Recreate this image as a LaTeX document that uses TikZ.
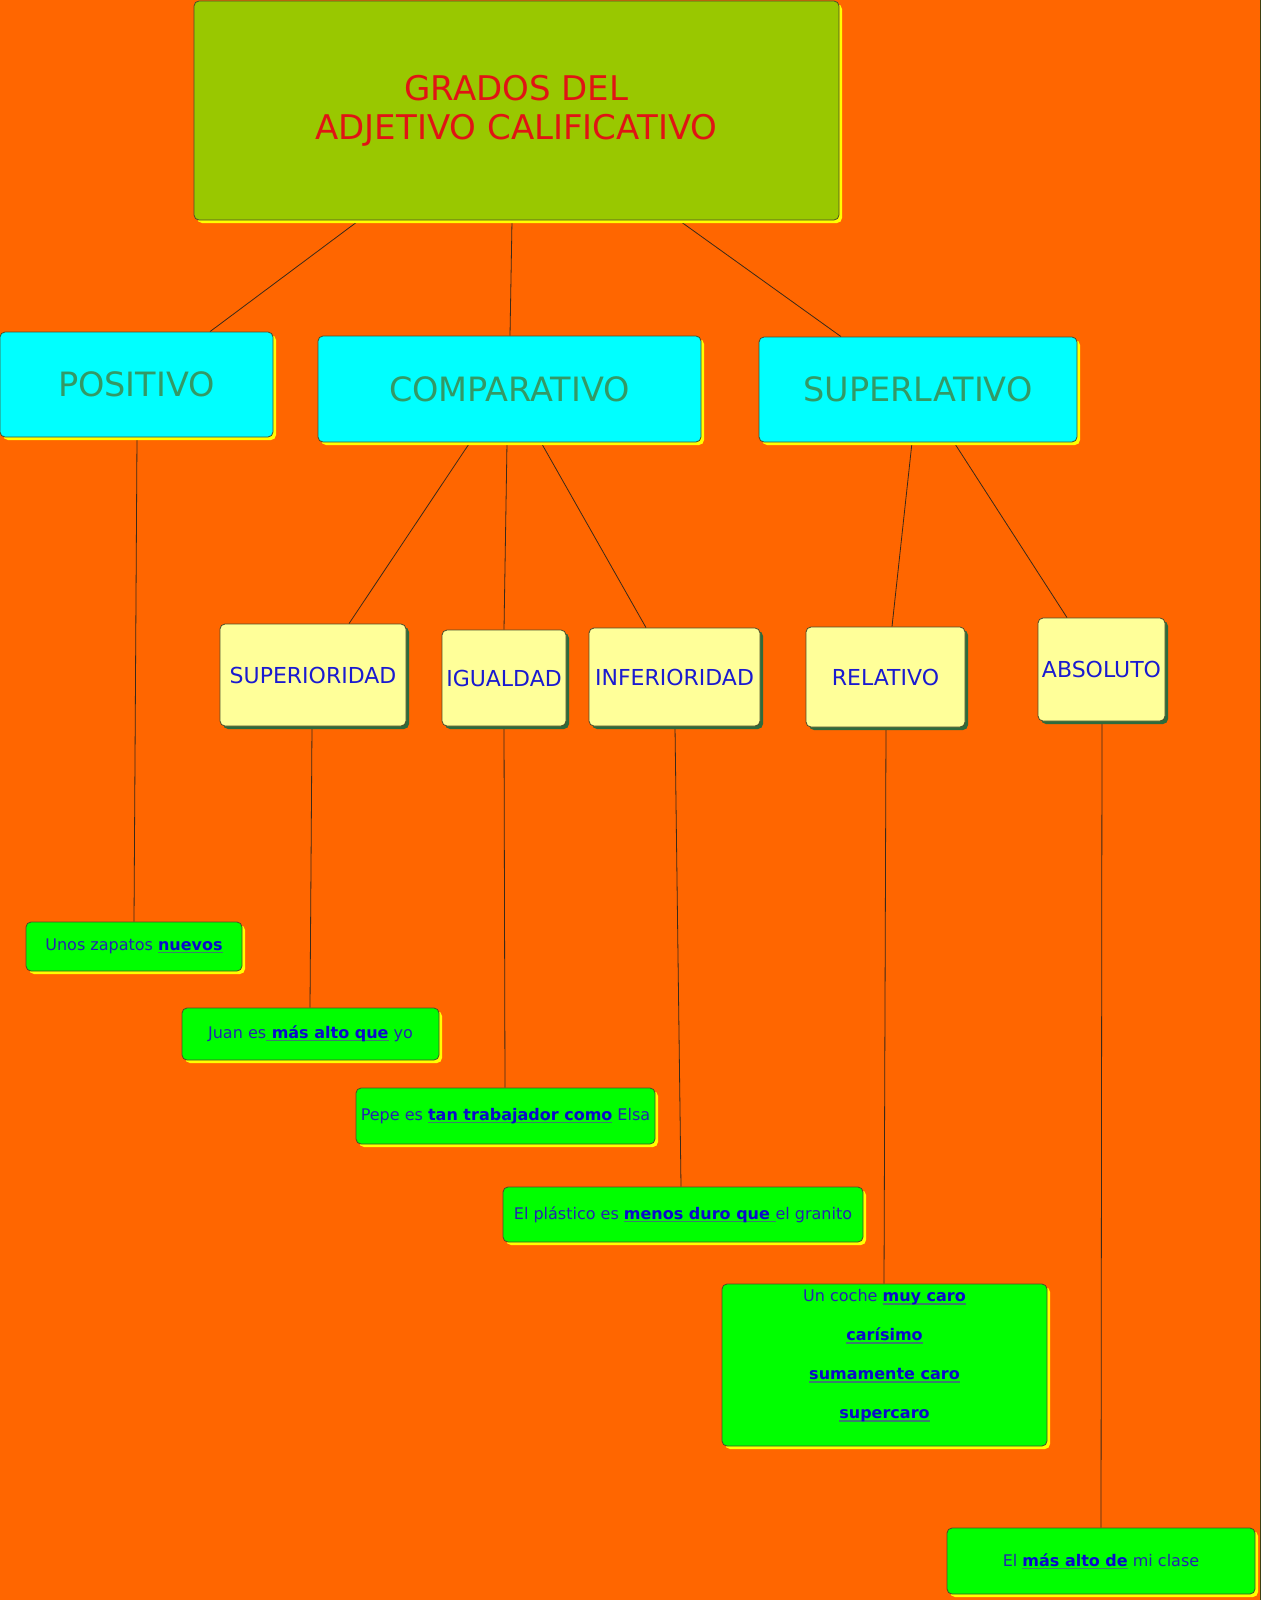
\documentclass[tikz,border=0pt]{standalone}
\usepackage{fontspec}
\setmainfont{DejaVu Sans}
\usetikzlibrary{shadows,calc}
\pgfdeclarelayer{background}
\pgfsetlayers{background,main}
\definecolor{bgorange}{HTML}{FF6600}
\definecolor{titlegreen}{HTML}{99C800}
\definecolor{titlered}{HTML}{E01414}
\definecolor{cyanbox}{HTML}{00FFFF}
\definecolor{seagreen}{HTML}{339966}
\definecolor{paleyellow}{HTML}{FFFF99}
\definecolor{lvlblue}{HTML}{1A1AD0}
\definecolor{limebox}{HTML}{00FF00}
\definecolor{txtblue}{HTML}{2424B0}
\definecolor{boldblue}{HTML}{0A0ACC}
\definecolor{ulcol}{HTML}{3A7F6A}
\definecolor{bordercol}{HTML}{4D4D2A}
\definecolor{darkshadow}{HTML}{2F6B3C}
\definecolor{shadowyellow}{HTML}{FFFF00}
\definecolor{linecol}{HTML}{3A2A1A}
\definecolor{edgecol}{HTML}{404010}
\newcommand{\ulb}[1]{{\bfseries\color{boldblue}\setbox0\hbox{#1}\rlap{\color{ulcol}\rule[-2.6pt]{\wd0}{1.1pt}}\box0}}
\tikzset{
  box/.style={draw=bordercol, line width=0.8pt, rounded corners=5pt, inner sep=0pt, align=center},
  yshadow/.style={drop shadow={shadow xshift=3pt, shadow yshift=-3pt, fill=shadowyellow, opacity=1}},
  gshadow/.style={drop shadow={shadow xshift=3pt, shadow yshift=-3pt, fill=darkshadow, opacity=1}},
  titlebox/.style={box, yshadow, fill=titlegreen, text=titlered, font=\fontsize{34}{39}\selectfont},
  mainbox/.style={box, yshadow, fill=cyanbox, text=seagreen, font=\fontsize{33.5}{38}\selectfont},
  subbox/.style={box, gshadow, fill=paleyellow, text=lvlblue, font=\fontsize{22}{26}\selectfont},
  exbox/.style={box, yshadow, fill=limebox, text=txtblue, font=\fontsize{16}{39}\selectfont},
  conn/.style={draw=linecol, line width=0.8pt},
}
\begin{document}
\begin{tikzpicture}[x=1pt,y=-1pt]
\useasboundingbox (0,0) rectangle (1261,1600);

\node[titlebox, minimum width=645pt, minimum height=219pt] (title) at (516.5,110.5) {GRADOS DEL\\ADJETIVO CALIFICATIVO};

\node[mainbox, minimum width=273pt, minimum height=105pt] (pos) at (136.5,384.5) {POSITIVO};
\node[mainbox, minimum width=383pt, minimum height=106pt] (comp) at (509.5,389) {COMPARATIVO};
\node[mainbox, minimum width=318pt, minimum height=105pt] (superl) at (918,389.5) {SUPERLATIVO};

\node[subbox, minimum width=186pt, minimum height=102pt] (sup) at (313,675) {SUPERIORIDAD};
\node[subbox, minimum width=124pt, minimum height=96pt] (igu) at (504,678) {IGUALDAD};
\node[subbox, minimum width=171pt, minimum height=98pt] (inf) at (674.5,677) {INFERIORIDAD};
\node[subbox, minimum width=159pt, minimum height=100pt] (rel) at (885.5,677) {RELATIVO};
\node[subbox, minimum width=127pt, minimum height=103pt] (abs) at (1101.5,669.5) {ABSOLUTO};

\node[exbox, minimum width=216pt, minimum height=49pt] (nuevos) at (134,946.5) {Unos zapatos \ulb{nuevos}};
\node[exbox, minimum width=257pt, minimum height=52pt] (juan) at (310.5,1034) {Juan es\ulb{ más alto que} yo};
\node[exbox, minimum width=299pt, minimum height=56pt] (pepe) at (505.5,1116) {Pepe es \ulb{tan trabajador como} Elsa};
\node[exbox, minimum width=360pt, minimum height=55pt] (plast) at (683,1214.5) {El plástico es \ulb{menos duro que }el granito};
\node[exbox, minimum width=325pt, minimum height=162pt] (coche) at (884.5,1365) {};
\node[text=txtblue, font=\fontsize{16}{39}\selectfont, align=center, anchor=north, inner sep=0pt] (cochetext) at ($(coche.north)+(0,6)$) {Un coche \ulb{muy caro}\\\ulb{carísimo}\\\ulb{sumamente caro}\\\ulb{supercaro}};
\node[exbox, minimum width=308pt, minimum height=66pt] (clase) at (1101,1561) {El \ulb{más alto de} mi clase};

\begin{pgfonlayer}{background}
\fill[bgorange] (0,0) rectangle (1261,1600);
\draw[edgecol, line width=1.5pt] (1260.25,0) -- (1260.25,1600);
\draw[conn] ([xshift=-157.5pt]title.south) -- ([xshift=73.5pt]pos.north);
\draw[conn] ([xshift=-4.5pt]title.south) -- ([xshift=0.5pt]comp.north);
\draw[conn] ([xshift=162.5pt]title.south) -- ([xshift=-77pt]superl.north);
\draw[conn] ([xshift=0.5pt]pos.south) -- (nuevos.north);
\draw[conn] ([xshift=-39.5pt]comp.south) -- ([xshift=36pt]sup.north);
\draw[conn] ([xshift=-2.5pt]comp.south) -- (igu.north);
\draw[conn] ([xshift=31.5pt]comp.south) -- ([xshift=-28.5pt]inf.north);
\draw[conn] ([xshift=-6pt]superl.south) -- ([xshift=6.5pt]rel.north);
\draw[conn] ([xshift=36pt]superl.south) -- ([xshift=-34.5pt]abs.north);
\draw[conn] ([xshift=-1pt]sup.south) -- ([xshift=-0.5pt]juan.north);
\draw[conn] (igu.south) -- ([xshift=-0.5pt]pepe.north);
\draw[conn] ([xshift=0.5pt]inf.south) -- ([xshift=-2pt]plast.north);
\draw[conn] ([xshift=0.5pt]rel.south) -- ([xshift=-0.5pt]coche.north);
\draw[conn] ([xshift=0.5pt]abs.south) -- (clase.north);
\end{pgfonlayer}
\end{tikzpicture}
\end{document}
